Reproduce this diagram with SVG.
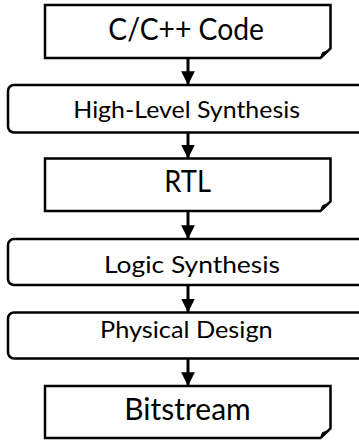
<svg xmlns="http://www.w3.org/2000/svg" width="359" height="440" viewBox="0 0 359 440">
<defs>
<style>
.box{fill:#fff;stroke:#000;stroke-width:2.5;stroke-linejoin:miter}
.fold{fill:#000;stroke:#000;stroke-width:1}
.big{font-family:Lato,"Liberation Sans",sans-serif;font-size:30px;fill:#000}
.small{font-family:Lato,"Liberation Sans",sans-serif;font-size:24px;fill:#000}
.conn{stroke:#000;stroke-width:3;fill:none}
</style>
<marker id="ah" viewBox="0 0 10 10" refX="10" refY="5" markerWidth="4.6" markerHeight="4.6" markerUnits="strokeWidth" orient="auto">
<path d="M0,0 L10,5 L0,10 Z" fill="#000"/>
</marker>
</defs>
<rect width="359" height="440" fill="#fff"/>
<g id="connectors">
<line class="conn" x1="188" y1="58" x2="188" y2="85" marker-end="url(#ah)"/>
<line class="conn" x1="188" y1="132.5" x2="188" y2="158.5" marker-end="url(#ah)"/>
<line class="conn" x1="188" y1="211" x2="188" y2="239" marker-end="url(#ah)"/>
<line class="conn" x1="188" y1="285" x2="188" y2="312.5" marker-end="url(#ah)"/>
<line class="conn" x1="188" y1="358.5" x2="188" y2="386" marker-end="url(#ah)"/>
</g>
<g id="code">
<path class="box" d="M45,5 H330.5 V48.5 L320.5,58 H45 Z"/>
<path class="fold" d="M320.5,58 L322.5,52.5 L327.5,51 Z"/>
<text class="big" x="108.3" y="40" textLength="155.7" lengthAdjust="spacingAndGlyphs">C/C++ Code</text>
</g>
<g id="hls">
<rect class="box" x="8" y="85" width="360" height="47.5" rx="6"/>
<text class="small" x="73.3" y="118.3" textLength="226.7" lengthAdjust="spacingAndGlyphs">High-Level Synthesis</text>
</g>
<g id="rtl">
<path class="box" d="M45,158.5 H330.5 V201.5 L320.5,211 H45 Z"/>
<path class="fold" d="M320.5,211 L322.5,205.5 L327.5,204 Z"/>
<text class="big" x="164.3" y="191.7" textLength="46.7" lengthAdjust="spacingAndGlyphs">RTL</text>
</g>
<g id="logic">
<rect class="box" x="8" y="239" width="360" height="46" rx="6"/>
<text class="small" x="104" y="273.3" textLength="176" lengthAdjust="spacingAndGlyphs">Logic Synthesis</text>
</g>
<g id="physical">
<rect class="box" x="8" y="312.5" width="360" height="46" rx="6"/>
<text class="small" x="100" y="338.3" textLength="172.7" lengthAdjust="spacingAndGlyphs">Physical Design</text>
</g>
<g id="bitstream">
<path class="box" d="M45,386 H330.5 V428.5 L320.5,438 H45 Z"/>
<path class="fold" d="M320.5,438 L322.5,432.5 L327.5,431 Z"/>
<text class="big" x="124.3" y="420" textLength="126.4" lengthAdjust="spacingAndGlyphs">Bitstream</text>
</g>
</svg>
